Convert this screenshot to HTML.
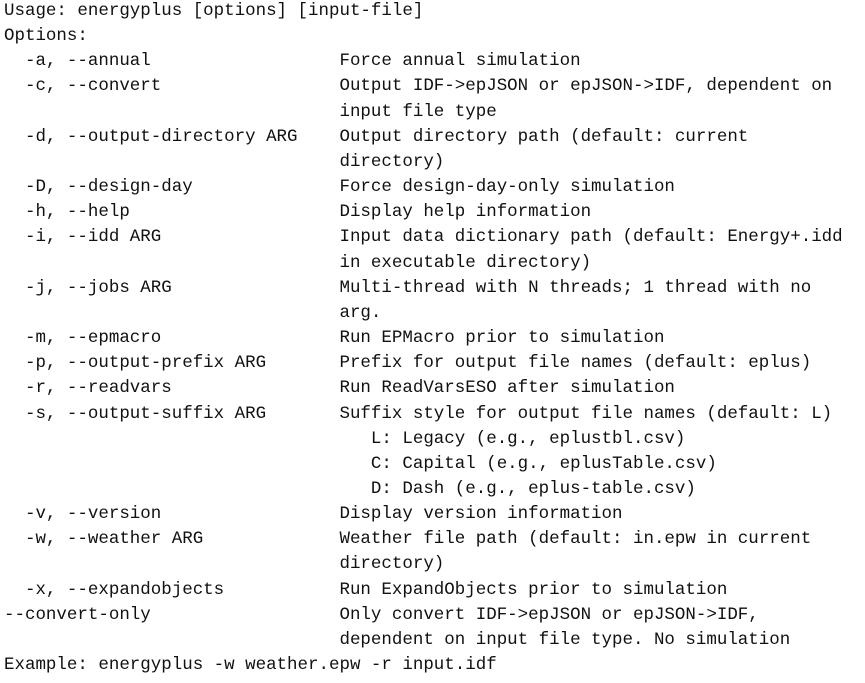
<!DOCTYPE html>
<html><head><meta charset="utf-8"><style>
html,body{margin:0;padding:0;background:#fff;width:865px;height:683px;overflow:hidden}
pre{position:absolute;left:4px;top:-1px;margin:0;font-family:"Liberation Mono",monospace;font-size:17.48px;line-height:25.15px;color:#111}
</style></head><body><pre>Usage: energyplus [options] [input-file]
Options:
  -a, --annual                  Force annual simulation
  -c, --convert                 Output IDF-&gt;epJSON or epJSON-&gt;IDF, dependent on
                                input file type
  -d, --output-directory ARG    Output directory path (default: current
                                directory)
  -D, --design-day              Force design-day-only simulation
  -h, --help                    Display help information
  -i, --idd ARG                 Input data dictionary path (default: Energy+.idd
                                in executable directory)
  -j, --jobs ARG                Multi-thread with N threads; 1 thread with no
                                arg.
  -m, --epmacro                 Run EPMacro prior to simulation
  -p, --output-prefix ARG       Prefix for output file names (default: eplus)
  -r, --readvars                Run ReadVarsESO after simulation
  -s, --output-suffix ARG       Suffix style for output file names (default: L)
                                   L: Legacy (e.g., eplustbl.csv)
                                   C: Capital (e.g., eplusTable.csv)
                                   D: Dash (e.g., eplus-table.csv)
  -v, --version                 Display version information
  -w, --weather ARG             Weather file path (default: in.epw in current
                                directory)
  -x, --expandobjects           Run ExpandObjects prior to simulation
--convert-only                  Only convert IDF-&gt;epJSON or epJSON-&gt;IDF,
                                dependent on input file type. No simulation
Example: energyplus -w weather.epw -r input.idf</pre></body></html>
